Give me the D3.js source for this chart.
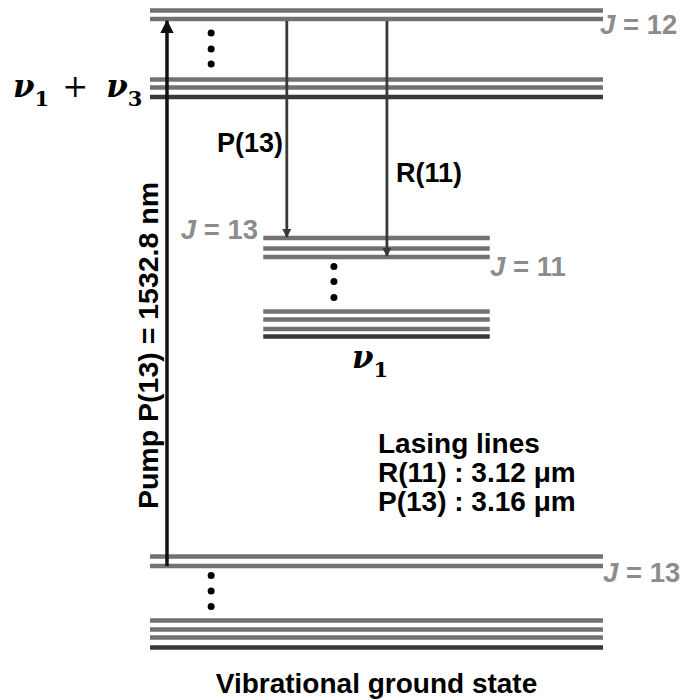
<!DOCTYPE html>
<html>
<head>
<meta charset="utf-8">
<script src="https://cdn.jsdelivr.net/npm/d3@7"></script>
<style>
  html, body { margin: 0; padding: 0; background: #fff; }
  svg { display: block; }
  .sans { font-family: "Liberation Sans", Arial, sans-serif; font-weight: bold; }
  .math { font-family: "DejaVu Serif", "Liberation Serif", serif; font-weight: bold; }
</style>
</head>
<body>
<div id="chart"></div>
<script>
// energy of each rotational level, in arbitrary units above the ground state
var groundLevels  = [0, 10, 18, 27, 81.5, 91];
var groundKinds   = ["dark", "gray", "gray", "gray", "gray", "gray"];
var nu1Levels     = [311, 318.5, 328, 336, 390.5, 399, 409.5];
var nu1Kinds      = ["dark", "gray", "gray", "gray", "gray", "gray", "gray"];
var nu13Levels    = [550.5, 560, 568, 628.5, 637];
var nu13Kinds     = ["dark", "gray", "gray", "gray", "gray"];

// gaps in the ladders (the three dots): energies of the dots
var groundDots = [41, 56.5, 72];
var nu1Dots    = [350, 366, 381];
var nu13Dots   = [583.5, 598.5, 614.5];

// transitions: name, from energy, to energy
var transitions = [
  {name: "pump",  from: 81.5,  to: 628.5},
  {name: "P(13)", from: 628.5, to: 409.5},
  {name: "R(11)", from: 628.5, to: 390.5}
];

var lasingLines = ["Lasing lines", "R(11) : 3.12 \u03bcm", "P(13) : 3.16 \u03bcm"];

var width = 681, height = 700;

var y = d3.scaleLinear().domain([0, 637]).range([647.5, 10.5]);
var x = d3.scaleLinear().domain([0, 100]).range([150, 603]);

var svg = d3.select("#chart").append("svg")
  .attr("width", width)
  .attr("height", height);

var defs = svg.append("defs");
defs.append("marker")
  .attr("id", "headPump")
  .attr("viewBox", "0 0 10 10")
  .attr("refX", 9).attr("refY", 5)
  .attr("markerWidth", 4).attr("markerHeight", 3.8)
  .attr("markerUnits", "strokeWidth")
  .attr("orient", "auto")
  .append("path").attr("d", "M0,0 L10,5 L0,10 Z").attr("fill", "#111");
defs.append("marker")
  .attr("id", "headLase")
  .attr("viewBox", "0 0 10 10")
  .attr("refX", 9).attr("refY", 5)
  .attr("markerWidth", 3.6).attr("markerHeight", 3.2)
  .attr("markerUnits", "strokeWidth")
  .attr("orient", "auto")
  .append("path").attr("d", "M0,0 L10,5 L0,10 Z").attr("fill", "#3b3838");

var colors = {gray: "#767171", dark: "#3b3838"};

function drawManifold(levels, kinds, x0, x1, dots, dotX) {
  var g = svg.append("g");
  g.selectAll("line")
    .data(levels)
    .enter().append("line")
    .attr("x1", x(x0)).attr("x2", x(x1))
    .attr("y1", function(d) { return y(d); })
    .attr("y2", function(d) { return y(d); })
    .attr("stroke", function(d, i) { return colors[kinds[i]]; })
    .attr("stroke-width", 4.6);
  g.selectAll("circle")
    .data(dots)
    .enter().append("circle")
    .attr("cx", x(dotX))
    .attr("cy", function(d) { return y(d); })
    .attr("r", 3.5)
    .attr("fill", "#000");
}

drawManifold(groundLevels, groundKinds, 0, 100, groundDots, 13.5);
drawManifold(nu1Levels, nu1Kinds, 25, 75, nu1Dots, 40.6);
drawManifold(nu13Levels, nu13Kinds, 0, 100, nu13Dots, 13.5);

// arrows
var arrowX = {"pump": 3.75, "P(13)": 30.2, "R(11)": 52.3};
svg.append("g").selectAll("line")
  .data(transitions)
  .enter().append("line")
  .attr("x1", function(d) { return x(arrowX[d.name]); })
  .attr("x2", function(d) { return x(arrowX[d.name]); })
  .attr("y1", function(d) { return d.name == "pump" ? y(d.from) : y(d.from) + 2; })
  .attr("y2", function(d) { return d.name == "pump" ? y(d.to) + 2 : y(d.to) - 1; })
  .attr("stroke", function(d) { return d.name == "pump" ? "#111" : "#3b3838"; })
  .attr("stroke-width", function(d) { return d.name == "pump" ? 3.5 : 2.8; })
  .attr("marker-end", function(d) { return d.name == "pump" ? "url(#headPump)" : "url(#headLase)"; });

// labels
var text = svg.append("g").attr("class", "sans");

function jLabel(px, py, num, anchor) {
  var t = text.append("text")
    .attr("x", px).attr("y", py)
    .attr("text-anchor", anchor || "start")
    .attr("font-size", 27.5)
    .attr("fill", "#8c8c8c");
  t.append("tspan").attr("font-style", "italic").text("J");
  t.append("tspan").text(" = " + num);
}
jLabel(600, 34, 12);
jLabel(258, 239, 13, "end");
jLabel(490, 276, 11);
jLabel(603, 582, 13);

text.append("text")
  .attr("x", 217).attr("y", 152)
  .attr("font-size", 27)
  .text("P(13)");
text.append("text")
  .attr("x", 396).attr("y", 182)
  .attr("font-size", 27)
  .text("R(11)");

text.append("g").selectAll("text")
  .data(lasingLines)
  .enter().append("text")
  .attr("x", 378)
  .attr("y", function(d, i) { return 453 + i * 29; })
  .attr("font-size", 28)
  .text(function(d) { return d; });

text.append("text")
  .attr("x", x(50)).attr("y", 693)
  .attr("text-anchor", "middle")
  .attr("font-size", 28)
  .text("Vibrational ground state");

text.append("text")
  .attr("transform", "translate(158,345.5) rotate(-90)")
  .attr("text-anchor", "middle")
  .attr("font-size", 28.5)
  .text("Pump P(13) = 1532.8 nm");

// mode names
var m1 = svg.append("text").attr("class", "math")
  .attr("x", 13).attr("y", 97).attr("font-size", 31);
m1.append("tspan").attr("font-style", "italic").text("\u03bd");
m1.append("tspan").attr("font-size", 21).attr("dy", 9).text("1");
m1.append("tspan").attr("font-weight", "normal").attr("dy", -9).attr("dx", 13).text("+");
m1.append("tspan").attr("font-style", "italic").attr("dx", 18).text("\u03bd");
m1.append("tspan").attr("font-size", 21).attr("dy", 9).text("3");

var m2 = svg.append("text").attr("class", "math")
  .attr("x", 352).attr("y", 368).attr("font-size", 31);
m2.append("tspan").attr("font-style", "italic").text("\u03bd");
m2.append("tspan").attr("font-size", 21).attr("dy", 9).text("1");
</script>
</body>
</html>
